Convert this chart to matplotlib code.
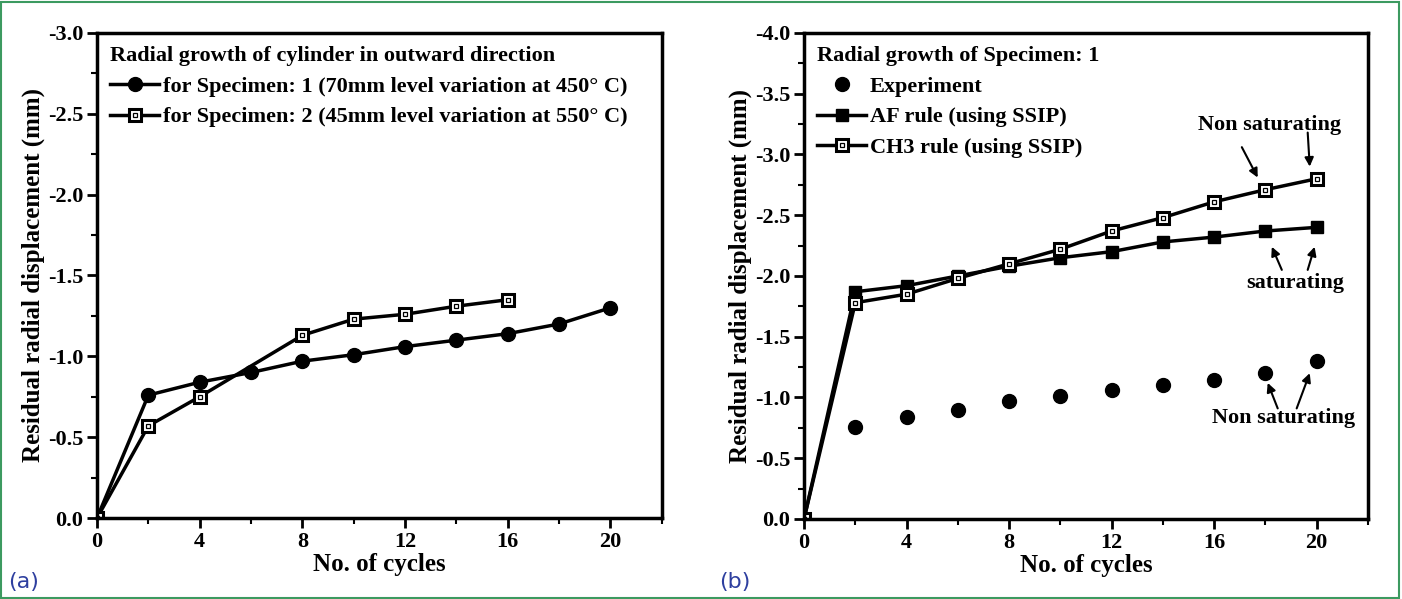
import numpy as np
import matplotlib.pyplot as plt
from matplotlib.ticker import MultipleLocator, FormatStrFormatter
from matplotlib.patches import Rectangle

plt.rcParams['font.family'] = ['Liberation Serif', 'DejaVu Serif']
plt.rcParams['font.weight'] = 'bold'
plt.rcParams['axes.unicode_minus'] = False

# panel (a) data
cycles = [0, 2, 4, 6, 8, 10, 12, 14, 16, 18, 20]
spec1 = [0, -0.76, -0.84, -0.90, -0.97, -1.01, -1.06, -1.10, -1.14, -1.20, -1.30]
cycles2 = [0, 2, 4, 8, 10, 12, 14, 16]
spec2 = [0, -0.57, -0.75, -1.13, -1.23, -1.26, -1.31, -1.35]

# panel (b) data
exp_cycles = [2, 4, 6, 8, 10, 12, 14, 16, 18, 20]
experiment = [-0.76, -0.84, -0.90, -0.97, -1.01, -1.06, -1.10, -1.14, -1.20, -1.30]
af_rule = [0, -1.87, -1.92, -2.00, -2.08, -2.15, -2.20, -2.28, -2.32, -2.37, -2.40]
ch3_rule = [0, -1.78, -1.85, -1.98, -2.10, -2.22, -2.37, -2.48, -2.61, -2.71, -2.80]

xticks = [0, 4, 8, 12, 16, 20]

fig = plt.figure(figsize=(14.02, 5.99), dpi=100)
# green frame around the whole figure
fig.patches.append(Rectangle((0.001, 0.002), 0.997, 0.995, transform=fig.transFigure,
                             fill=False, edgecolor='#3c9a60', linewidth=1.5))

ax1 = fig.add_axes([0.0692, 0.1352, 0.4028, 0.8098])
ax2 = fig.add_axes([0.5735, 0.1336, 0.4022, 0.8114])


def style_axes(ax, ymin):
    ax.set_xlim(0, 22)
    ax.set_ylim(0, ymin)
    ax.set_xticks(xticks)
    ax.xaxis.set_minor_locator(MultipleLocator(2))
    ax.yaxis.set_major_locator(MultipleLocator(0.5))
    ax.yaxis.set_minor_locator(MultipleLocator(0.25))
    ax.yaxis.set_major_formatter(FormatStrFormatter('%.1f'))
    ax.tick_params(which='major', direction='out', length=7, width=2, labelsize=16, pad=3)
    ax.tick_params(which='minor', direction='out', length=4, width=1.5)
    for s in ax.spines.values():
        s.set_linewidth(2.5)
    for lab in ax.get_xticklabels() + ax.get_yticklabels():
        lab.set_fontweight('bold')
    ax.set_xlabel('No. of cycles', fontsize=18, fontweight='bold', labelpad=1)
    ax.set_ylabel('Residual radial displacement (mm)', fontsize=18, fontweight='bold', labelpad=2)


def open_square(ax, x, y):
    # square marker with a small inner square, as in the original figure
    outer, = ax.plot(x, y, color='black', lw=2.5, marker='s', ms=9, mfc='white', mew=2.2)
    inner, = ax.plot(x, y, linestyle='none', color='black', marker='s', ms=3, mfc='none', mew=0.9)
    return (outer, inner)


leg_kw = dict(loc='upper left', frameon=False, fontsize=16,
              title_fontproperties={'size': 16, 'weight': 'bold'}, handlelength=2.2,
              handletextpad=0.15, borderaxespad=0.3, borderpad=0.3, labelspacing=0.45)

# (a)
h1, = ax1.plot(cycles, spec1, color='black', lw=2.5, marker='o', ms=10)
h2 = open_square(ax1, cycles2, spec2)
style_axes(ax1, -3.0)
leg = ax1.legend([h1, h2], ['for Specimen: 1 (70mm level variation at 450° C)',
                            'for Specimen: 2 (45mm level variation at 550° C)'],
                 title='Radial growth of cylinder in outward direction', **leg_kw)
leg._legend_box.align = 'left'

# (b)
e1, = ax2.plot(exp_cycles, experiment, linestyle='none', color='black', marker='o', ms=10)
e2, = ax2.plot(cycles, af_rule, color='black', lw=2.5, marker='s', ms=9)
e3 = open_square(ax2, cycles, ch3_rule)
style_axes(ax2, -4.0)
leg2 = ax2.legend([e1, e2, e3], ['Experiment', 'AF rule (using SSIP)', 'CH3 rule (using SSIP)'],
                  title='Radial growth of Specimen: 1', **leg_kw)
leg2._legend_box.align = 'left'

arr = dict(arrowstyle='-|>', color='black', lw=1.5, mutation_scale=13, shrinkA=0, shrinkB=0)
txt = dict(ha='center', va='center', fontsize=16, fontweight='bold')
ax2.text(18.17, -3.24, 'Non saturating', **txt)
ax2.annotate('', xy=(17.70, -2.81), xytext=(17.08, -3.06), arrowprops=arr)
ax2.annotate('', xy=(19.73, -2.90), xytext=(19.65, -3.18), arrowprops=arr)
ax2.text(19.18, -1.94, 'saturating', **txt)
ax2.annotate('', xy=(18.25, -2.24), xytext=(18.64, -2.05), arrowprops=arr)
ax2.annotate('', xy=(19.92, -2.24), xytext=(19.65, -2.05), arrowprops=arr)
ax2.text(18.71, -0.83, 'Non saturating', **txt)
ax2.annotate('', xy=(18.09, -1.12), xytext=(18.48, -0.91), arrowprops=arr)
ax2.annotate('', xy=(19.73, -1.20), xytext=(19.22, -0.91), arrowprops=arr)

# panel letters
fig.text(0.006, 0.018, '(a)', color='#2e3f9f', fontsize=16, family='DejaVu Sans', fontweight='normal')
fig.text(0.513, 0.018, '(b)', color='#2e3f9f', fontsize=16, family='DejaVu Sans', fontweight='normal')

fig.savefig('out.png', dpi=100, facecolor='white')
